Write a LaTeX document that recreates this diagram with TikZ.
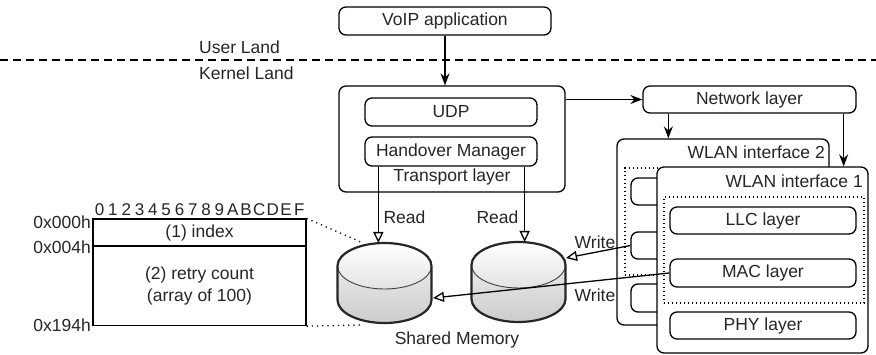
\documentclass[tikz,border=0pt]{standalone}
\usepackage{fontspec}
\setmainfont{Liberation Sans}
\usetikzlibrary{arrows.meta}
\newcommand\myfs{\fontsize{17.5}{21}\selectfont}
\newcommand\mycyl[3]{% #1 name, #2 centre x, #3 top y
  \shade[top color=gray!8, bottom color=gray!40]
    ({#2-47},{#3+23}) -- ({#2-47},{#3+57}) arc[start angle=180,end angle=0,x radius=47,y radius=23]
    -- ({#2+47},{#3+23}) arc[start angle=0,end angle=-180,x radius=47,y radius=23] -- cycle;
  \shade[top color=white, bottom color=gray!22] (#2,{#3+23}) ellipse[x radius=47,y radius=23];
  \draw[line width=0.9pt, black!75] (#2,{#3+23}) ellipse[x radius=47,y radius=23];
  \draw[line width=2.2pt, black!85, line join=round]
    ({#2-47},{#3+23}) -- ({#2-47},{#3+57}) arc[start angle=180,end angle=0,x radius=47,y radius=23]
    -- ({#2+47},{#3+23}) arc[start angle=0,end angle=-180,x radius=47,y radius=23] -- cycle;
  \coordinate (#1n) at (#2,#3);
}
\begin{document}
\begin{tikzpicture}[x=1pt,y=-1pt,
  font=\myfs, text=black!85,
  every node/.style={inner sep=0pt},
  box/.style={draw, rounded corners=7pt, fill=white, line width=1.3pt},
  dotbox/.style={draw, line width=1.3pt, dash pattern=on 1.2pt off 2.8pt},
  tbl/.style={draw, line width=1.3pt},
  stl/.style={line width=1.3pt, -{Stealth[length=12pt,width=9pt,inset=4pt]}},
  opn/.style={line width=1.3pt, -{Triangle[length=11pt,width=10pt,fill=white]}},
  dotl/.style={line width=1.3pt, dash pattern=on 1.2pt off 4pt}]
\useasboundingbox (0,0) rectangle (876,355);

% user / kernel separation
\coordinate (dl) at (0,60);
\coordinate (dr) at (876,60);
\draw[line width=1.3pt, dash pattern=on 8pt off 5pt] (dl) -- (dr);
\node[anchor=west] (ul) at (199,47) {User Land};
\node[anchor=west] (kl) at (199,73) {Kernel Land};

% application and transport
\node[box, minimum width=212, minimum height=28] (voip) at (445,21) {VoIP application};
\node[box, minimum width=226, minimum height=106] (tr) at (452,139) {};
\node[box, minimum width=172, minimum height=28] (udp) at (451,112) {UDP};
\node[box, minimum width=172, minimum height=29] (hm) at (451,151.5) {Handover Manager};
\node (trl) at (452,177) {Transport layer};

% network layer
\node[box, minimum width=213, minimum height=27] (net) at (749.5,99.5) {Network layer};

% WLAN interface 2
\node[box, minimum width=212, minimum height=186] (w2) at (723,232) {};
\node[anchor=east] (w2l) at (825,152) {WLAN interface 2};
\node[dotbox, minimum width=195, minimum height=107] (w2d) at (722.5,221.5) {};
\node[box, minimum width=60, minimum height=27] (s1) at (661,191.5) {};
\node[box, minimum width=60, minimum height=27] (s2) at (661,245.5) {};
\node[box, minimum width=60, minimum height=28] (s3) at (661,298) {};

% WLAN interface 1
\node[box, minimum width=211, minimum height=186] (w1) at (762.5,260) {};
\node[anchor=east] (w1l) at (863,181) {WLAN interface 1};
\node[dotbox, minimum width=200, minimum height=106] (w1d) at (764,250) {};
\node[box, minimum width=186, minimum height=27] (llc) at (763,220.5) {LLC layer};
\node[box, minimum width=186, minimum height=28] (mac) at (763,273) {MAC layer};
\node[box, minimum width=186, minimum height=27] (phy) at (763,325.5) {PHY layer};

% memory layout table
\node[tbl, minimum width=213, minimum height=27] (idx) at (199.5,232.5) {(1) index};
\node[tbl, minimum width=213, minimum height=79, align=center] (rc) at (199.5,286) {(2) retry count\\[1pt](array of 100)};
\node[anchor=east] (a0) at (91,222) {0x000h};
\node[anchor=east] (a1) at (91,247) {0x004h};
\node[anchor=east] (a2) at (91,325) {0x194h};
\foreach \c [count=\i from 0] in {0,1,2,3,4,5,6,7,8,9,A,B,C,D,E,F}
  \node[font=\fontsize{17}{19}\selectfont] (dg\i) at ({93+13.31*(\i+0.5)},210) {\c};

% shared memory cylinders
\mycyl{ca}{384.5}{243}
\mycyl{cb}{518.5}{242}
\coordinate (cae) at (433,298);
\coordinate (cbe) at (566,258);
\coordinate (d1) at (363,243);
\coordinate (d2) at (363,325);
\node (sm) at (457,340) {Shared Memory};

% connectors
\draw[stl] (voip.south) -- (voip.south |- tr.north);
\draw[stl] (tr.east |- net.west) -- (net.west);
\draw[stl] ([xshift=26pt]net.south west) -- ([xshift=26pt]net.south west |- w2.north);
\draw[stl] ([xshift=-13pt]net.south east) -- ([xshift=-13pt]net.south east |- w1.north);

\draw[opn] ([xshift=14pt]hm.south west) -- ([xshift=14pt]hm.south west |- can);
\draw[opn] ([xshift=-13pt]hm.south east) -- ([xshift=-13pt]hm.south east |- cbn);
\node (r1) at (404.5,217) {Read};
\node (r2) at (497.5,217) {Read};

\draw[opn] (s2.west) -- (cbe);
\draw[opn] (mac.west) -- (cae);
\node (wr1) at (595,242) {Write};
\node (wr2) at (595,295) {Write};

\draw[dotl] (idx.north east) -- (d1);
\draw[dotl] (rc.south east) -- (d2);
\end{tikzpicture}
\end{document}
